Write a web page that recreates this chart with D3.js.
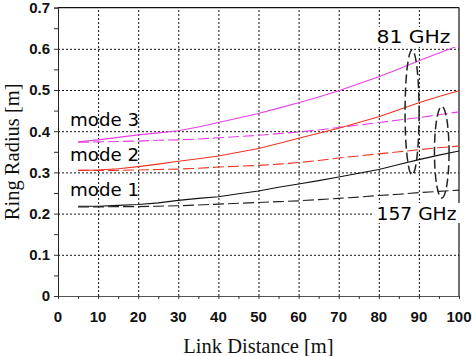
<!DOCTYPE html>
<html>
<head>
<meta charset="utf-8">
<script src="https://cdn.jsdelivr.net/npm/d3@7"></script>
<style>
  html, body { margin: 0; padding: 0; background: #fff; }
  svg { display: block; }
  .grid line { stroke: #111; stroke-width: 1; stroke-dasharray: 2 2; }
  .grid path { display: none; }
</style>
</head>
<body>
<div id="chart"></div>
<script>
// ---- Data ----
const distance = [5, 10, 15, 20, 25, 30, 35, 40, 45, 50, 55, 60, 65, 70, 75, 80, 85, 90, 95, 100];
// 81 GHz (solid)
const mode1_81GHz = [0.218, 0.218, 0.220, 0.222, 0.226, 0.232, 0.237, 0.241, 0.248, 0.255, 0.264, 0.272, 0.280, 0.289, 0.298, 0.307, 0.319, 0.331, 0.342, 0.352];
const mode2_81GHz = [0.305, 0.306, 0.309, 0.314, 0.320, 0.327, 0.333, 0.340, 0.349, 0.358, 0.370, 0.383, 0.395, 0.407, 0.421, 0.435, 0.452, 0.469, 0.484, 0.498];
const mode3_81GHz = [0.374, 0.379, 0.385, 0.391, 0.396, 0.401, 0.410, 0.421, 0.432, 0.443, 0.456, 0.469, 0.483, 0.498, 0.515, 0.532, 0.551, 0.571, 0.590, 0.608];
// 157 GHz (dashed)
const mode1_157GHz = [0.216, 0.216, 0.217, 0.217, 0.218, 0.219, 0.221, 0.223, 0.225, 0.227, 0.229, 0.231, 0.234, 0.237, 0.240, 0.244, 0.247, 0.251, 0.254, 0.257];
const mode2_157GHz = [0.305, 0.305, 0.305, 0.306, 0.307, 0.308, 0.310, 0.313, 0.315, 0.317, 0.320, 0.324, 0.329, 0.335, 0.340, 0.345, 0.350, 0.355, 0.360, 0.364];
const mode3_157GHz = [0.373, 0.374, 0.375, 0.376, 0.378, 0.379, 0.381, 0.384, 0.387, 0.390, 0.394, 0.398, 0.403, 0.409, 0.415, 0.421, 0.427, 0.433, 0.440, 0.447];

const modeLabels = ["mode 1", "mode 2", "mode 3"];
const freqLabels = ["81 GHz", "157 GHz"];
const xTicks = [0, 10, 20, 30, 40, 50, 60, 70, 80, 90, 100];
const yTicks = [0, 0.1, 0.2, 0.3, 0.4, 0.5, 0.6, 0.7];
const xTitle = "Link Distance [m]";
const yTitle = "Ring Radius [m]";

// ---- Layout ----
const W = 472, H = 356;
const x = d3.scaleLinear().domain([0, 100]).range([58, 459]);
const y = d3.scaleLinear().domain([0, 0.7]).range([296, 7.6]);

const svg = d3.select("#chart").append("svg")
  .attr("width", W).attr("height", H)
  .attr("viewBox", `0 0 ${W} ${H}`);

// grid (via axes with full-length ticks)
svg.append("g").attr("class", "grid")
  .attr("transform", `translate(0,${y(0)})`)
  .call(d3.axisBottom(x).tickValues(xTicks.slice(1, -1)).tickSize(-(y(0) - y(0.7))).tickFormat(""));
svg.append("g").attr("class", "grid")
  .attr("transform", `translate(${x(0)},0)`)
  .call(d3.axisLeft(y).tickValues(yTicks.slice(1, -1)).tickSize(-(x(100) - x(0))).tickFormat(""));

// axes
const xAxis = d3.axisBottom(x).tickValues(d3.range(0, 100.1, 5)).tickSize(3).tickFormat("");
const gx = svg.append("g").attr("transform", `translate(0,${y(0)})`).call(xAxis);
gx.select(".domain").attr("stroke", "#555");
gx.selectAll(".tick line").attr("stroke", "#333");
svg.append("g").selectAll("text").data(xTicks).join("text")
  .attr("x", d => x(d)).attr("y", 321.5)
  .attr("text-anchor", "middle")
  .attr("font-family", "Liberation Sans, Arial, sans-serif")
  .attr("font-weight", "bold").attr("font-size", 15).attr("fill", "#111")
  .text(d => d);

const yAxis = d3.axisLeft(y).tickValues(d3.range(0, 0.701, 0.05)).tickSize(4).tickFormat("");
const gy = svg.append("g").attr("transform", `translate(${x(0)},0)`).call(yAxis);
gy.select(".domain").attr("stroke", "#222");
gy.selectAll(".tick line").attr("stroke", "#333");
svg.append("g").selectAll("text").data(yTicks).join("text")
  .attr("x", 50).attr("y", d => y(d))
  .attr("dy", "0.36em")
  .attr("text-anchor", "end")
  .attr("font-family", "Liberation Sans, Arial, sans-serif")
  .attr("font-weight", "bold").attr("font-size", 15).attr("fill", "#111")
  .text(d => d === 0 ? "0" : d3.format(".1f")(d));

// top and right border
svg.append("line").attr("x1", x(0)).attr("x2", x(100)).attr("y1", y(0.7)).attr("y2", y(0.7))
  .attr("stroke", "#111").attr("stroke-width", 1.2);
svg.append("line").attr("x1", x(100)).attr("x2", x(100)).attr("y1", y(0.7)).attr("y2", y(0))
  .attr("stroke", "#111").attr("stroke-width", 1.2);

// axis titles
svg.append("text").attr("x", (x(0) + x(100)) / 2).attr("y", 353)
  .attr("text-anchor", "middle")
  .attr("font-family", "Liberation Serif, Times New Roman, serif")
  .attr("font-size", 20.5).attr("fill", "#111").text(xTitle);
svg.append("text")
  .attr("transform", `translate(19,${(y(0) + y(0.7)) / 2}) rotate(-90)`)
  .attr("text-anchor", "middle")
  .attr("font-family", "Liberation Serif, Times New Roman, serif")
  .attr("font-size", 20.5).attr("fill", "#111").text(yTitle);

// series
const series = [
  { vals: mode3_157GHz, color: "#e640e6", dash: "11,4" },
  { vals: mode2_157GHz, color: "#ee3322", dash: "11,4" },
  { vals: mode1_157GHz, color: "#222", dash: "11,4" },
  { vals: mode3_81GHz, color: "#e640e6", dash: null },
  { vals: mode2_81GHz, color: "#ee3322", dash: null },
  { vals: mode1_81GHz, color: "#111", dash: null }
];
const line = d3.line().x((d, i) => x(distance[i])).y(d => y(d));
svg.append("g").selectAll("path").data(series).join("path")
  .attr("d", d => line(d.vals))
  .attr("fill", "none")
  .attr("stroke", d => d.color)
  .attr("stroke-width", 1.1)
  .attr("stroke-dasharray", d => d.dash);

// mode labels
const modeLabelY = [0.2434, 0.328, 0.4126];
svg.append("g").selectAll("text").data(modeLabels).join("text")
  .attr("x", x(3)).attr("y", (d, i) => y(modeLabelY[i]))
  .attr("font-family", "DejaVu Sans, Verdana, sans-serif")
  .attr("font-size", 17.5).attr("fill", "#000")
  .attr("textLength", 69).attr("lengthAdjust", "spacingAndGlyphs")
  .text(d => d);

// ellipses
const ell = [
  { cx: 88.3, rx: 1.75, top: 0.597, bot: 0.294 },
  { cx: 95.7, rx: 1.82, top: 0.460, bot: 0.238 }
];
svg.append("g").selectAll("ellipse").data(ell).join("ellipse")
  .attr("cx", d => x(d.cx))
  .attr("cy", d => y((d.top + d.bot) / 2))
  .attr("rx", d => x(d.cx + d.rx) - x(d.cx))
  .attr("ry", d => (y(d.bot) - y(d.top)) / 2)
  .attr("fill", "none").attr("stroke", "#222")
  .attr("stroke-width", 1.5).attr("stroke-dasharray", "9,4");

// frequency labels with white background
const fl = [
  { text: freqLabels[0], x: 376.5, base: 43.3, len: 74, box: [372, 27, 86, 20] },
  { text: freqLabels[1], x: 376.5, base: 220, len: 80, box: [372, 203, 90, 20] }
];
fl.forEach(f => {
  svg.append("rect").attr("x", f.box[0]).attr("y", f.box[1])
    .attr("width", f.box[2]).attr("height", f.box[3]).attr("fill", "#fff");
  svg.append("text").attr("x", f.x).attr("y", f.base)
    .attr("font-family", "DejaVu Sans, Verdana, sans-serif")
    .attr("font-size", 18).attr("fill", "#000")
    .attr("textLength", f.len).attr("lengthAdjust", "spacingAndGlyphs")
    .text(f.text);
});
</script>
</body>
</html>
